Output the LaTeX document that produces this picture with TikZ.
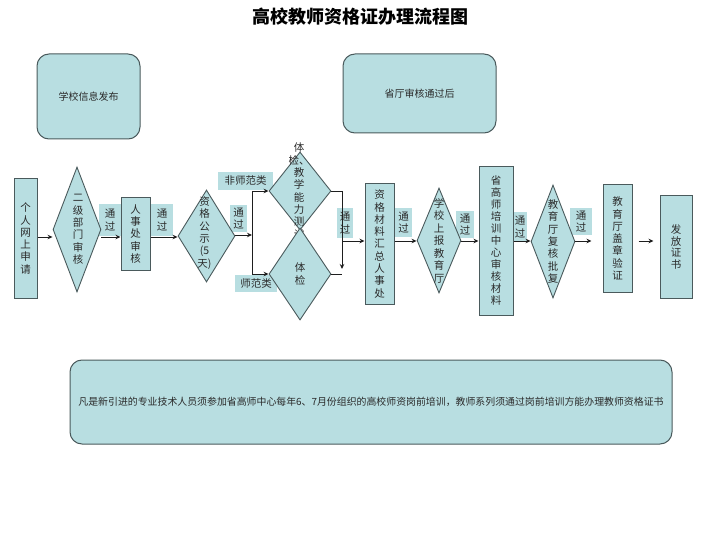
\documentclass[tikz,border=0pt]{standalone}
\usepackage{fontspec}
\setmainfont{Noto Sans CJK SC}
\usetikzlibrary{shapes.geometric,arrows.meta}
\definecolor{fillc}{HTML}{B8DEE1}
\definecolor{edgec}{HTML}{4A5A5C}
\definecolor{txtc}{HTML}{2A2A2A}
\definecolor{linec}{HTML}{1E1E1E}
\begin{document}
\begin{tikzpicture}[x=1pt,y=-1pt,
  box/.style={draw=edgec, fill=fillc, line width=1pt, inner sep=0pt, align=center, text=txtc},
  rbox/.style={box, rounded corners=12pt},
  dia/.style={diamond, draw=edgec, fill=fillc, line width=0.9pt, inner sep=0pt},
  vtext/.style={align=center, text=txtc, inner sep=0pt},
  fa/.style={font=\fontsize{10.5}{12.3}\selectfont},
  pass/.style={fill=fillc, inner sep=0pt, align=center, text=txtc, font=\fontsize{10.5}{12.5}\selectfont},
  arr/.style={draw=linec, line width=0.9pt, -{Stealth[length=5pt,width=4.5pt]}},
  ln/.style={draw=linec, line width=0.9pt}]
\useasboundingbox (0,0) rectangle (720,540);

% title
\node[font=\fontsize{18}{20}\selectfont\bfseries, text=black] (title) at (360,17) {高校教师资格证办理流程图};

% top boxes
\node[rbox, minimum width=103pt, minimum height=85pt, font=\fontsize{10}{12}\selectfont] (b1) at (88.5,96.5) {学校信息发布};
\node[rbox, minimum width=153pt, minimum height=79pt, font=\fontsize{10}{12}\selectfont] (b2) at (419.5,93.5) {省厅审核通过后};

% bottom box
\node[rbox, minimum width=602pt, minimum height=84pt, font=\fontsize{9.9}{12}\selectfont] (b3) at (371,402) {凡是新引进的专业技术人员须参加省高师中心每年6、7月份组织的高校师资岗前培训，教师系列须通过岗前培训方能办理教师资格证书};

% pass labels
\node[pass, minimum width=22pt, minimum height=32pt] (l1) at (110,220) {通\\过};
\node[pass, minimum width=22pt, minimum height=32pt] (l2) at (162,220) {通\\过};
\node[pass, minimum width=17pt, minimum height=27pt] (l3) at (238.5,218.5) {通\\过};
\node[pass, minimum width=16pt, minimum height=30pt] (l4) at (345,223) {通\\过};
\node[pass, minimum width=17pt, minimum height=29pt] (l5) at (403.5,222.5) {通\\过};
\node[pass, minimum width=18pt, minimum height=27pt] (l6) at (465,224.5) {通\\过};
\node[pass, minimum width=14pt, minimum height=30pt] (l7) at (520,227) {通\\过};
\node[pass, minimum width=22pt, minimum height=27pt] (l8) at (581,221.5) {通\\过};
\node[pass, minimum width=55pt, minimum height=18pt] (l9) at (245.5,181) {非师范类};
\node[pass, minimum width=42pt, minimum height=17pt] (l10) at (256,283.5) {师范类};

% flow nodes
\node[box, fa, minimum width=23pt, minimum height=119pt] (n1) at (25.5,238.5) {个\\人\\网\\上\\申\\请};
\node[dia, minimum width=48pt, minimum height=125pt] (d1) at (77,229.5) {};
\node[vtext, fa] (t1) at ([xshift=1pt]d1.center) {二\\级\\部\\门\\审\\核};
\node[box, fa, minimum width=29pt, minimum height=72pt] (n2) at (135.5,234) {人\\事\\处\\审\\核};
\node[dia, minimum width=57pt, minimum height=92pt] (d2) at (206.5,236) {};
\node[vtext, fa] (t2) at ([xshift=-2pt,yshift=3pt]d2.center) {资\\格\\公\\示\\(5\\天)};
\node[dia, minimum width=62pt, minimum height=78pt] (d3) at (300,191) {};
\node[vtext, fa] (t3) at ([xshift=-1pt]d3.center) {体\\检、\\教\\学\\能\\力\\测\\试};
\node[dia, minimum width=62pt, minimum height=92pt] (d4) at (300,274) {};
\node[vtext, fa] (t4) at (d4.center) {体\\检};
\node[box, font=\fontsize{10.5}{12.3}\selectfont, minimum width=29pt, minimum height=120pt] (n3) at (379.5,244) {资\\格\\材\\料\\汇\\总\\人\\事\\处};
\node[dia, minimum width=44pt, minimum height=105pt] (d5) at (439,240.5) {};
\node[vtext, font=\fontsize{10.5}{12.5}\selectfont] (t5) at (d5.center) {学\\校\\上\\报\\教\\育\\厅};
\node[box, font=\fontsize{10.5}{12}\selectfont, minimum width=34pt, minimum height=148pt] (n4) at (496,241) {省\\高\\师\\培\\训\\中\\心\\审\\核\\材\\料};
\node[dia, minimum width=44pt, minimum height=113pt] (d6) at (553,241.5) {};
\node[vtext, fa] (t6) at (d6.center) {教\\育\\厅\\复\\核\\批\\复};
\node[box, fa, minimum width=29pt, minimum height=107pt] (n5) at (617.5,238.5) {教\\育\\厅\\盖\\章\\验\\证};
\node[box, font=\fontsize{10.5}{11.5}\selectfont, minimum width=32pt, minimum height=102pt] (n6) at (676,247) {发\\放\\证\\书};

% row coordinates
\coordinate (ya) at (0,237);
\coordinate (yb) at (0,235);
\coordinate (yc) at (0,241);
\coordinate (sp) at (252,235);
\coordinate (spt) at (sp |- d3.west);
\coordinate (spb) at (sp |- d4.west);
\coordinate (jn) at (342,241);
\coordinate (jt) at (jn |- d3.east);
\coordinate (jb) at (jn |- d4.east);
\coordinate (je) at (342,269);

% connectors
\draw[arr] (n1.east |- ya) -- (d1.west |- ya);
\draw[arr] (d1.east |- ya) -- (n2.west |- ya);
\draw[arr] (n2.east |- ya) -- (d2.west |- ya);
\draw[arr] (d2.east |- yb) -- (sp);
\draw[ln] (spt) -- (spb);
\draw[arr] (spt) -- (d3.west);
\draw[arr] (spb) -- (d4.west);
\draw[ln] (d3.east) -- (jt);
\draw[arr] (jt) -- (je);
\draw[ln] (d4.east) -- (jb);
\draw[arr] (jn) -- (n3.west |- jn);
\draw[arr] (n3.east |- yc) -- (d5.west |- yc);
\draw[arr] (d5.east |- yc) -- (n4.west |- yc);
\draw[arr] (n4.east |- yc) -- (d6.west |- yc);
\draw[arr, shorten >=11pt] (d6.east |- yc) -- (n5.west |- yc);
\draw[arr, shorten <=6pt, shorten >=6pt] (n5.east |- yc) -- (n6.west |- yc);
\end{tikzpicture}
\end{document}
